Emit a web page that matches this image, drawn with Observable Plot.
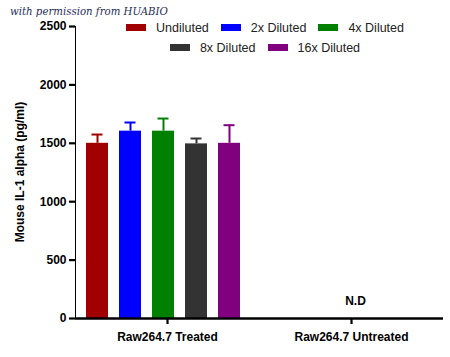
<!DOCTYPE html>
<html><head><meta charset="utf-8">
<script src="https://cdn.jsdelivr.net/npm/d3@7"></script>
<script src="https://cdn.jsdelivr.net/npm/@observablehq/plot@0.6"></script>
<style>
body{margin:0;background:#fff;}
#wrap{position:relative;width:450px;height:357px;font-family:"Liberation Sans",Arial,sans-serif;}
#wm{position:absolute;left:10px;top:6px;font-family:"DejaVu Serif",serif;font-style:italic;font-size:10.2px;color:#1f2d5c;white-space:nowrap;}
#legend{position:absolute;left:117px;top:20px;width:296px;display:flex;flex-wrap:wrap;justify-content:center;row-gap:5px;font-size:12.5px;color:#222;}
#legend .it{display:flex;align-items:center;margin:0 6px;height:15px;}
#legend .sw{width:20px;height:7px;margin-right:10px;}
#ylab{position:absolute;left:20px;top:172px;transform:translate(-50%,-50%) rotate(-90deg);white-space:nowrap;font-weight:bold;font-size:12px;color:#000;}
#chart svg{display:block;}
#chart svg [aria-label^="y-axis"] line, #chart svg [aria-label^="y-axis"] path,
#chart svg [aria-label^="fx-axis"] line, #chart svg [aria-label^="fx-axis"] path {stroke:#000;stroke-width:2.2;stroke-opacity:1;}
</style></head>
<body><div id="wrap"><div id="chart"></div><div id="legend"></div><div id="ylab"></div><div id="wm">with permission from HUABIO</div></div>
<script>
const groups = ["Raw264.7 Treated", "Raw264.7 Untreated"];
const dilutions = ["Undiluted", "2x Diluted", "4x Diluted", "8x Diluted", "16x Diluted"];
const colors = ["#a00000", "#0000ff", "#008000", "#333333", "#800080"];
const means = [1500, 1604, 1604, 1495, 1500];
const errors = [75, 74, 108, 46, 155];
const yTicks = [0, 500, 1000, 1500, 2000, 2500];
const yLabel = "Mouse IL-1 alpha (pg/ml)";
const notes = [{group: "Raw264.7 Untreated", label: "N.D", y: 0}];
const baseline = groups.map(g => ({group: g, y: 0}));

const data = dilutions.map((d, i) => ({group: groups[0], dilution: d, mean: means[i], top: means[i] + errors[i]}));

const leg = document.getElementById("legend");
dilutions.forEach((d, i) => {
  const it = document.createElement("div"); it.className = "it";
  const sw = document.createElement("div"); sw.className = "sw"; sw.style.background = colors[i];
  const tx = document.createElement("span"); tx.textContent = d;
  it.appendChild(sw); it.appendChild(tx); leg.appendChild(it);
});
document.getElementById("ylab").textContent = yLabel;

const plot = Plot.plot({
  width: 450, height: 357,
  marginTop: 26, marginBottom: 39, marginLeft: 75, marginRight: 7,
  style: {fontFamily: "Liberation Sans, Arial, sans-serif", fontSize: "12px", fontWeight: "bold", color: "#000", background: "#fff"},
  fx: {domain: groups, padding: 0, label: null, tickSize: 6, tickPadding: 8},
  x: {domain: dilutions, paddingInner: 0.34, paddingOuter: 0.43, align: 0.38, axis: null},
  y: {domain: [0, 2500], ticks: yTicks, tickSize: 6, tickPadding: 3, label: null, line: true, tickFormat: d => String(d)},
  color: {domain: dilutions, range: colors},
  marks: [
    Plot.barY(data, {fx: "group", x: "dilution", y: "mean", fill: "dilution"}),
    Plot.ruleX(data, {fx: "group", x: "dilution", y1: "mean", y2: "top", stroke: "dilution", strokeWidth: 2}),
    Plot.tickY(data, {fx: "group", x: "dilution", y: "top", stroke: "dilution", strokeWidth: 2, insetLeft: 5.5, insetRight: 5.5}),
    Plot.ruleY(baseline, {fx: "group", y: "y", stroke: "#000", strokeWidth: 2.5}),
    Plot.text(notes, {fx: "group", y: "y", text: "label", dy: -17, dx: 4, frameAnchor: "middle", fontSize: 12, fontWeight: "bold"})
  ]
});
document.getElementById("chart").appendChild(plot);
</script></body></html>
